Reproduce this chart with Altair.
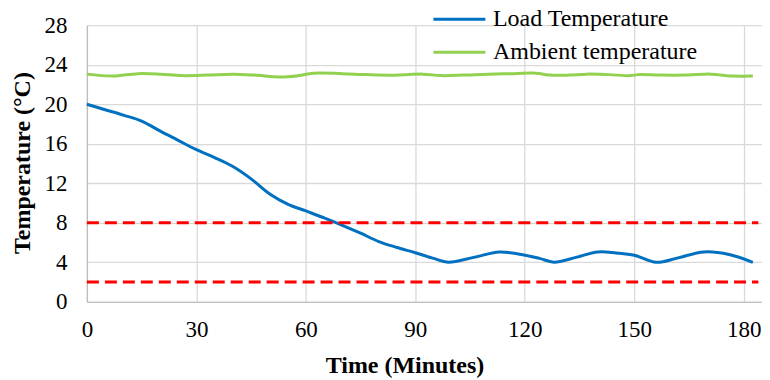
import altair as alt
import pandas as pd

# ---- data ----
load_time = [0, 5, 10, 15, 20, 25, 30, 35, 40, 45, 50, 55, 60, 65, 70, 75, 80, 85, 90, 95,
             99, 106, 113, 119, 124, 128, 134, 140, 145, 150, 156, 162, 169, 176, 182.5]
load_temp = [20.0, 19.45, 18.9, 18.3, 17.3, 16.35, 15.4, 14.6, 13.7, 12.45, 10.95, 9.9, 9.2, 8.5,
             7.75, 6.95, 6.1, 5.5, 4.97, 4.4, 4.02, 4.5, 5.05, 4.8, 4.4, 4.02, 4.5, 5.05, 4.95,
             4.72, 4.0, 4.45, 5.05, 4.8, 4.0]

amb_time = [0, 7, 14, 20, 26, 33, 40, 46, 53, 58, 62, 70, 77, 85, 92, 97, 103, 110, 117, 123,
            127, 132, 137, 143, 149, 151, 157, 164, 171, 177, 182.5]
amb_temp = [23.05, 22.85, 23.1, 23.05, 22.9, 22.95, 23.05, 22.95, 22.75, 22.9, 23.15, 23.1, 23.0,
            22.95, 23.05, 22.9, 22.95, 23.05, 23.1, 23.15, 22.95, 22.95, 23.05, 23.0, 22.9, 23.0,
            22.95, 22.95, 23.05, 22.85, 22.85]

series_names = ["Load Temperature", "Ambient temperature"]
series_colors = ["#0070C0", "#92D050"]

limit_values = [8, 2]
limit_start = [0, 0]
limit_end = [184, 184]

x_ticks = [0, 30, 60, 90, 120, 150, 180]
y_ticks = [0, 4, 8, 12, 16, 20, 24, 28]

# ---- tables ----
lines_df = pd.concat([
    pd.DataFrame({"t": load_time, "T": load_temp, "series": series_names[0]}),
    pd.DataFrame({"t": amb_time, "T": amb_temp, "series": series_names[1]}),
])
limits_df = pd.DataFrame({"y": limit_values, "x0": limit_start, "x1": limit_end})

FONT = "Liberation Serif, Times New Roman, DejaVu Serif, serif"

x_scale = alt.Scale(domain=[0, 185], nice=False)
y_scale = alt.Scale(domain=[0, 28], nice=False)

x_axis = alt.Axis(values=x_ticks, title="Time (Minutes)", labelFlush=False, labelOverlap=False,
                  titleX=318, titleY=71, titleBaseline="alphabetic", titleAlign="center",
                  labelPadding=17)
y_axis = alt.Axis(values=y_ticks, title="Temperature (°C)", labelPadding=20, labelOverlap=False,
                  labelFlush=False,
                  titleX=-57, titleY=137.5, titleAngle=270, titleBaseline="alphabetic",
                  titleAlign="center")

lines = alt.Chart(lines_df).mark_line(strokeWidth=3, interpolate="catmull-rom").encode(
    x=alt.X("t:Q", scale=x_scale, axis=x_axis),
    y=alt.Y("T:Q", scale=y_scale, axis=y_axis),
    color=alt.Color("series:N",
                    scale=alt.Scale(domain=series_names, range=series_colors),
                    sort=series_names,
                    legend=alt.Legend(orient="none", legendX=361, legendY=-18, title=None,
                                      symbolType="M-2.5,0H2.5", symbolSize=433,
                                      symbolStrokeWidth=3, labelFont=FONT, labelFontSize=24,
                                      labelColor="#000000", labelOffset=21.6, rowPadding=9,
                                      padding=0, labelLimit=400)),
    detail="series:N",
)

limits = alt.Chart(limits_df).mark_rule(color="#FF0000", strokeWidth=3, strokeDash=[12, 6]).encode(
    x=alt.X("x0:Q", scale=x_scale, axis=x_axis),
    x2="x1:Q",
    y=alt.Y("y:Q", scale=y_scale, axis=y_axis),
)

chart = alt.layer(lines, limits).properties(
    width=676, height=277,
    autosize=alt.AutoSizeParams(type="none"),
    padding={"left": 79, "top": 17, "right": 0, "bottom": 78},
).configure_axis(
    grid=True, gridColor="#d9d9d9", gridWidth=1.3,
    domainColor="#bfbfbf", domainWidth=1.3, ticks=False,
    labelFont=FONT, labelFontSize=23, labelColor="#000000",
    titleFont=FONT, titleFontSize=24, titleFontWeight="bold", titleColor="#000000",
).configure_view(strokeWidth=0)

chart.save("out.html", embed_options={"renderer": "svg", "actions": False})
